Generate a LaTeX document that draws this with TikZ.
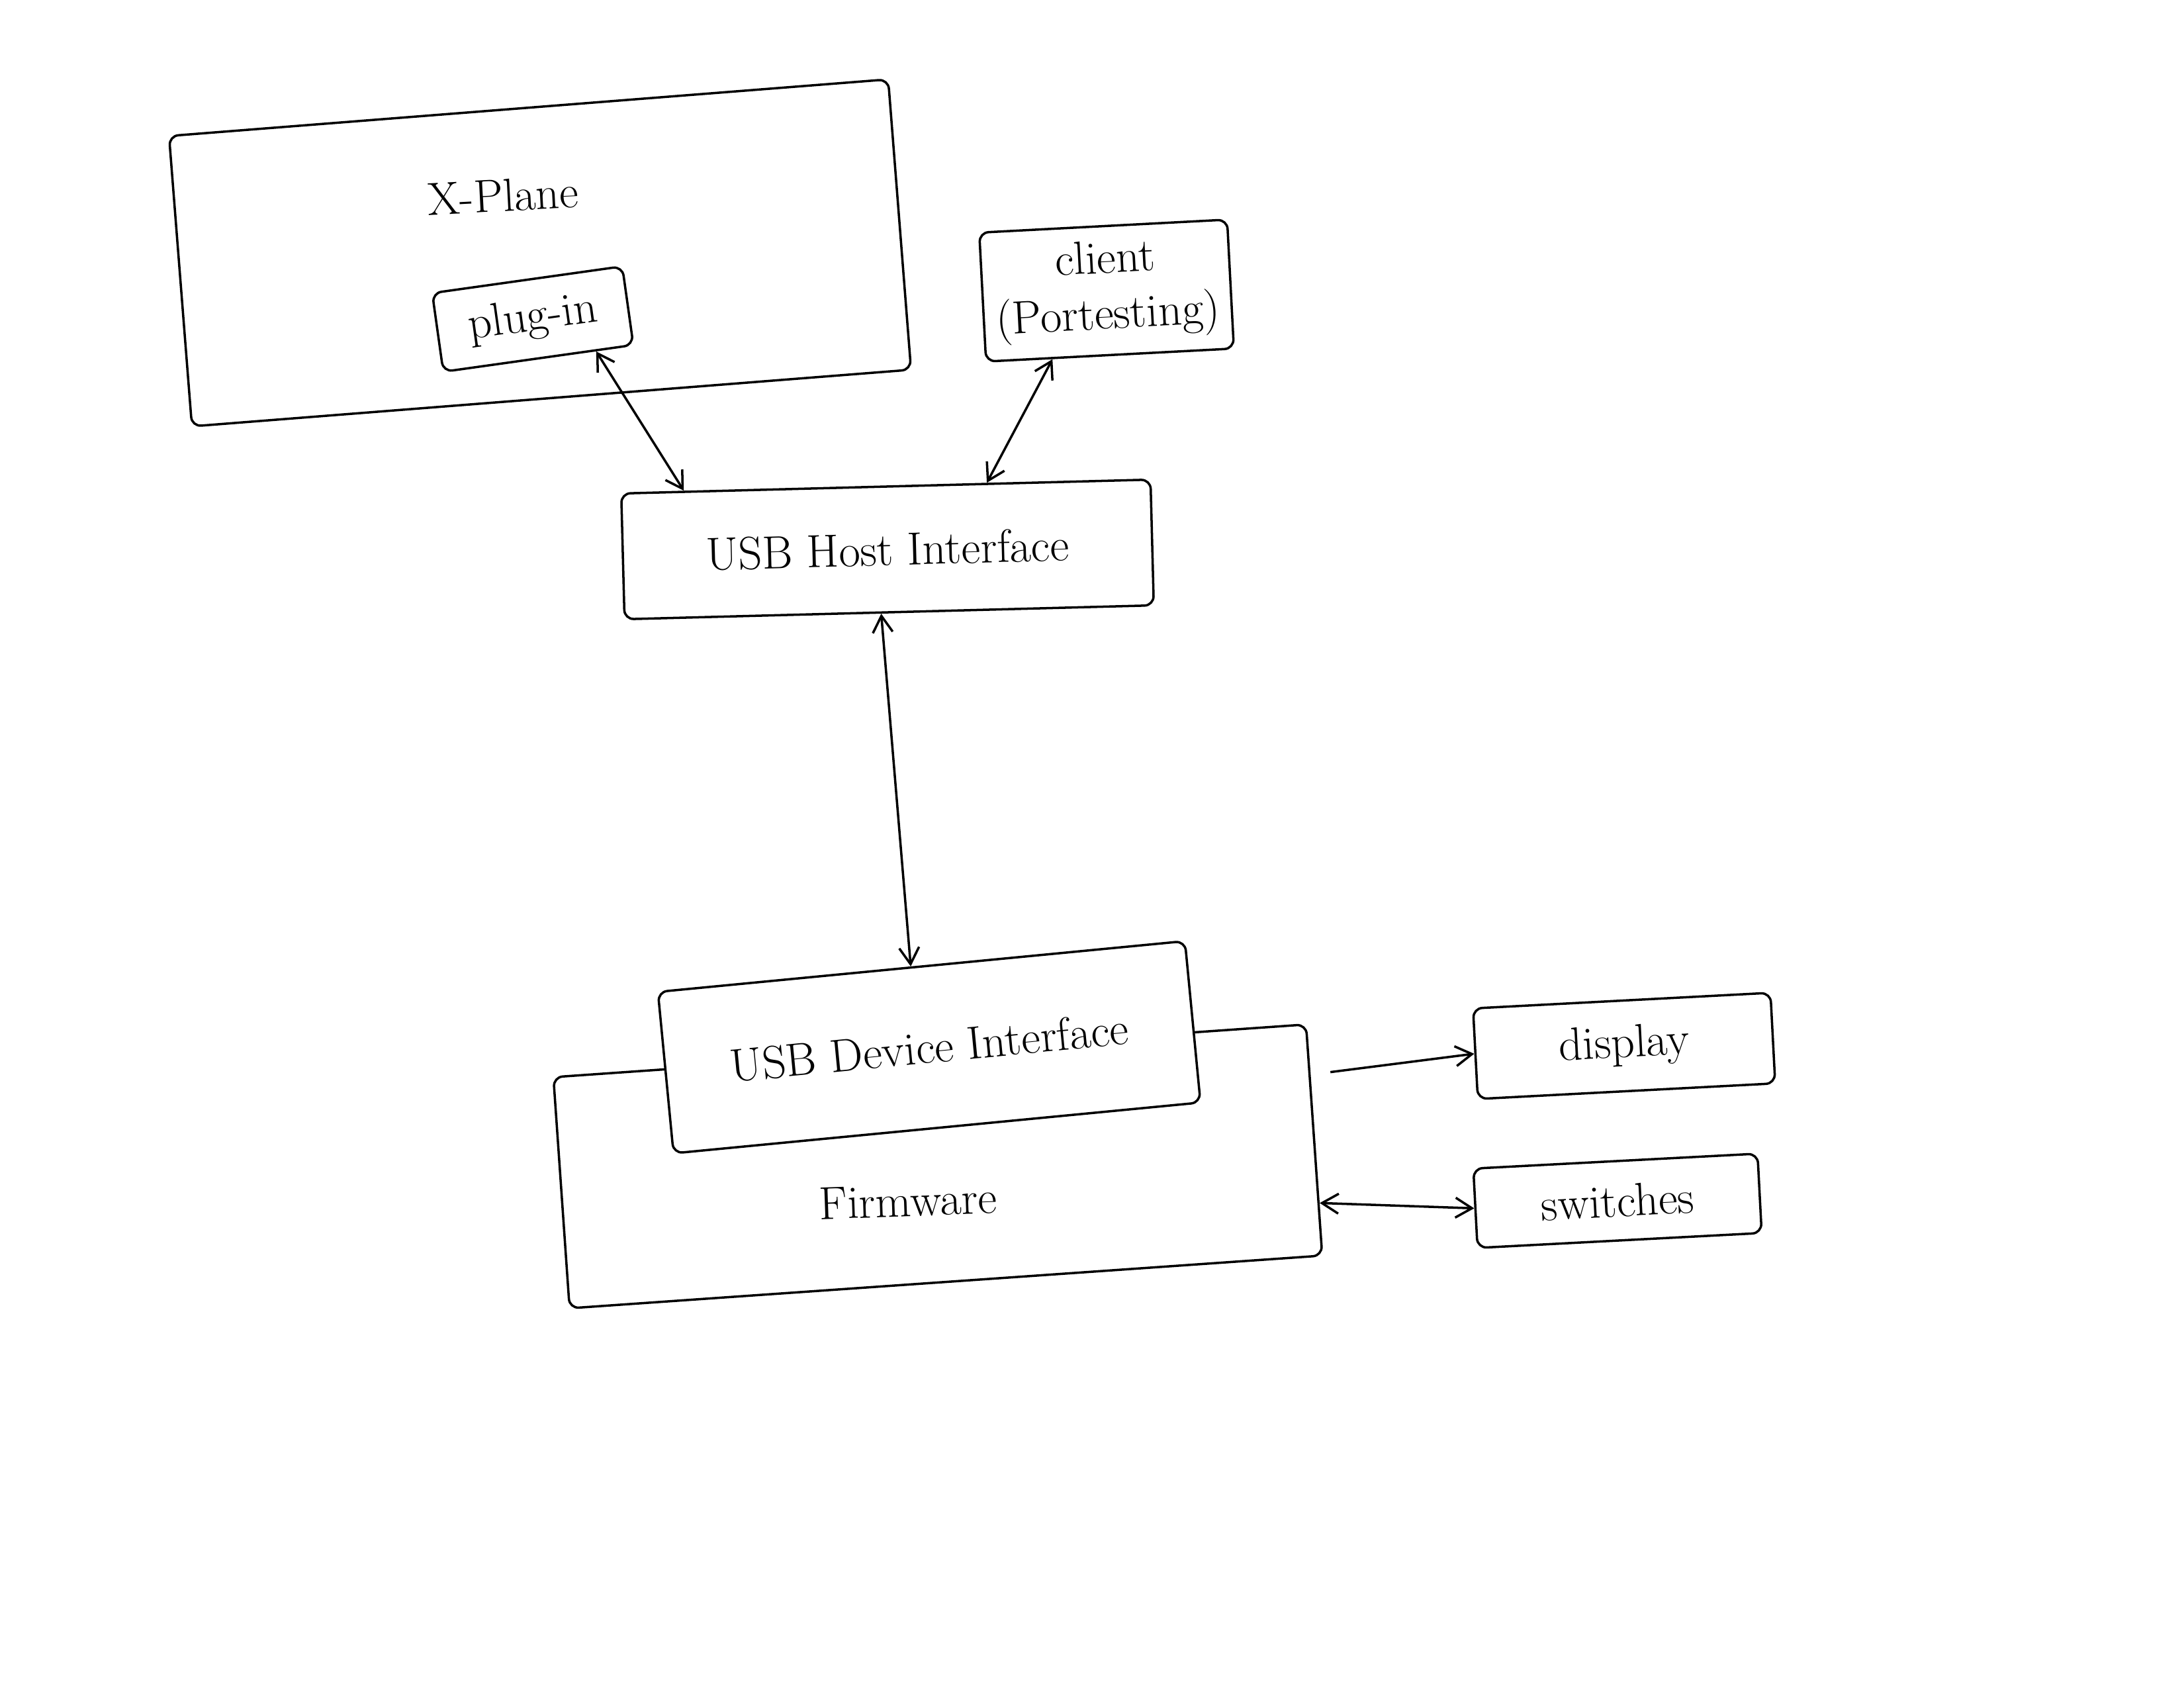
\documentclass[tikz,border=0pt]{standalone}
\usepackage{tikz}
\usetikzlibrary{calc,arrows.meta}

\tikzset{
  box/.style={draw, line width=1pt, rounded corners=4pt, inner sep=0pt},
  txt/.style={font=\fontsize{20}{24}\selectfont, align=center},
  link/.style={line width=1pt, {Straight Barb[length=2.5mm,width=3mm]}-{Straight Barb[length=2.5mm,width=3mm]}},
  linkto/.style={line width=1pt, -{Straight Barb[length=2.5mm,width=3mm]}}
}

\begin{document}
\begin{tikzpicture}
    \useasboundingbox (0,0) rectangle (33,-25.5);

    % X-Plane mit plug-in
    \node[box, minimum width=10.9cm, minimum height=4.4cm, rotate=4.5] (xplane) at (8.16,-3.82) {};
    \node[txt, rotate=3] (xplanetxt) at (7.6,-2.95) {X-Plane};
    \node[box, txt, minimum width=2.9cm, minimum height=1.2cm, rotate=8] (plugin) at (8.05,-4.82) {plug-in};

    % client
    \node[box, txt, minimum width=3.75cm, minimum height=1.95cm, rotate=3] (client) at (16.72,-4.39) {client\\(Portesting)};

    % USB Host
    \node[box, txt, minimum width=8cm, minimum height=1.9cm, rotate=1.5] (host) at (13.41,-8.3) {USB Host Interface};

    % Firmware, darueber USB Device
    \node[box, minimum width=11.4cm, minimum height=3.5cm, rotate=4] (firmware) at (14.17,-17.62) {};
    \node[txt, rotate=2] (firmwaretxt) at (13.72,-18.14) {Firmware};
    \node[box, txt, fill=white, minimum width=8cm, minimum height=2.45cm, rotate=5.5] (device) at (14.04,-15.82) {USB Device Interface};

    % Peripherie
    \node[box, txt, minimum width=4.5cm, minimum height=1.37cm, rotate=3] (display) at (24.54,-15.8) {display};
    \node[box, txt, minimum width=4.3cm, minimum height=1.2cm, rotate=3] (switches) at (24.44,-18.14) {switches};

    % Verbindungen
    \draw[link] ($(plugin.south west)!0.8!(plugin.south east)$) -- ($(host.north west)!0.12!(host.north east)$);
    \draw[link] ($(host.north west)!0.69!(host.north east)$) -- ($(client.south west)!0.27!(client.south east)$);
    \draw[link] ($(host.south west)!0.485!(host.south east)$) -- ($(device.north west)!0.48!(device.north east)$);
    \draw[linkto, shorten <=3mm] ($(firmware.north east)!0.22!(firmware.south east)$) -- (display.west);
    \draw[link] (switches.west) -- ($(firmware.north east)!0.77!(firmware.south east)$);
\end{tikzpicture}
\end{document}
